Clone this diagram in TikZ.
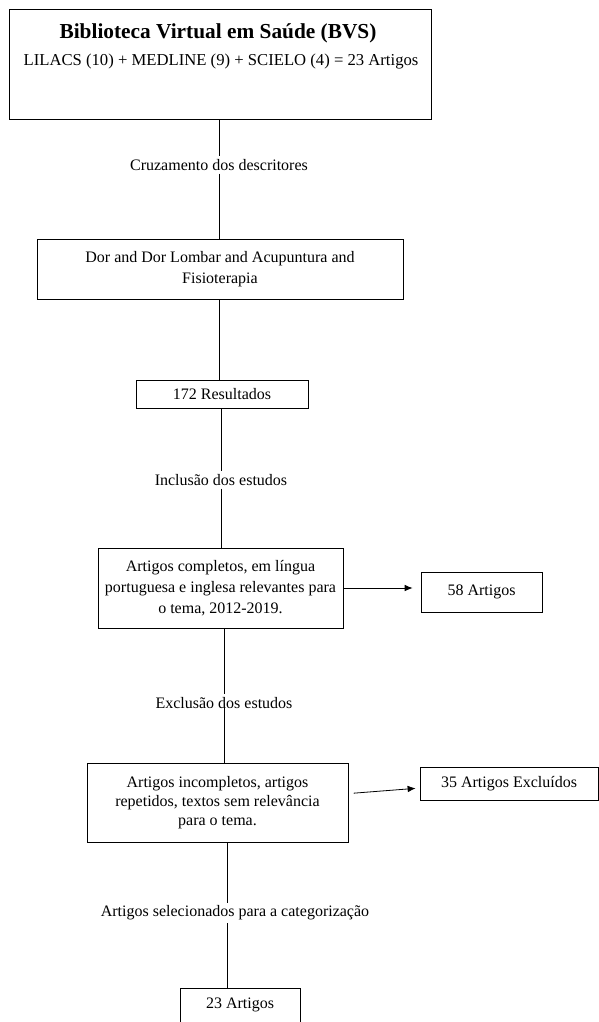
\documentclass[tikz,border=0pt]{standalone}
\usepackage{fontspec}
\setmainfont{Liberation Serif}
\usetikzlibrary{positioning,arrows.meta}

\begin{document}
\begin{tikzpicture}
  [x=0.75pt, y=-0.75pt,
   box/.style={rectangle, draw, line width=0.6pt, inner sep=0pt, align=center,
     font=\fontsize{12}{16}\selectfont},
   lbl/.style={inner sep=2pt, font=\fontsize{12}{14}\selectfont},
   link/.style={line width=0.6pt},
   arr/.style={line width=0.6pt, -{Latex[length=6pt,width=5pt]}, shorten >=6pt}]

  \clip (0,0) rectangle (599,1022);

  % base de dados
  \node[box, minimum width=317pt, minimum height=83pt] at (220.5,64.5) (bvs) {};
  \node[font=\fontsize{16}{18}\selectfont\bfseries] at (218,33)
    (bvstitle) {Biblioteca Virtual em Saúde (BVS)};
  \node[lbl, font=\fontsize{12.5}{14}\selectfont] at (221,62)
    (bvsbases) {LILACS (10) + MEDLINE (9) + SCIELO (4) = 23 Artigos};

  % fluxo principal
  \node[lbl] at (219,165) (cruz) {Cruzamento dos descritores};
  \node[box, minimum width=274.5pt, minimum height=45pt] at (220,269)
    (desc) {Dor and Dor Lombar and Acupuntura and\\Fisioterapia};
  \node[box, minimum width=129pt, minimum height=21pt] at (222,394)
    (res) {172 Resultados};
  \node[lbl] at (221,480) (incl) {Inclusão dos estudos};
  \node[box, minimum width=183.75pt, minimum height=60pt, font=\fontsize{12}{15.75}\selectfont]
    at (220.5,588)
    (inc) {Artigos completos, em língua\\portuguesa e inglesa relevantes para\\o tema, 2012-2019.};
  \node[box, minimum width=90.75pt, minimum height=30pt] at (481.5,592)
    (a58) {58 Artigos};
  \node[lbl] at (224,703) (excl) {Exclusão dos estudos};
  \node[box, minimum width=195.75pt, minimum height=59.25pt, font=\fontsize{12}{14}\selectfont]
    at (217.5,802.5)
    (exc) {Artigos incompletos, artigos\\repetidos, textos sem relevância\\para o tema.};
  \node[box, minimum width=133.5pt, minimum height=24.75pt] at (509,783.5)
    (a35) {35 Artigos Excluídos};
  \node[lbl] at (235,913) (sel) {Artigos selecionados para a categorização};
  \coordinate (selx) at (227,913);
  \node[box, minimum width=90pt, text height=15pt, text depth=30pt, anchor=base]
    at (240,1008) (a23) {23 Artigos};

  % ligacoes
  \draw[link] (cruz |- bvs.south) -- (cruz);
  \draw[link] (cruz) -- (cruz |- desc.north);
  \draw[link] (cruz |- desc.south) -- (cruz |- res.north);
  \draw[link] (incl |- res.south) -- (incl);
  \draw[link] (incl) -- (incl |- inc.north);
  \draw[arr] (inc.east) -- (inc.east -| a58.west);
  \draw[link] (excl |- inc.south) -- (excl);
  \draw[link] (excl.center) -- (excl |- exc.north);
  \draw[arr, shorten >=3pt] ([xshift=4pt,yshift=7pt]exc.east) -- ([yshift=-3.4pt]a35.west);
  \draw[link] (selx |- exc.south) -- (selx |- sel.north);
  \draw[link] (selx |- sel.south) -- (selx |- a23.north);
\end{tikzpicture}
\end{document}
